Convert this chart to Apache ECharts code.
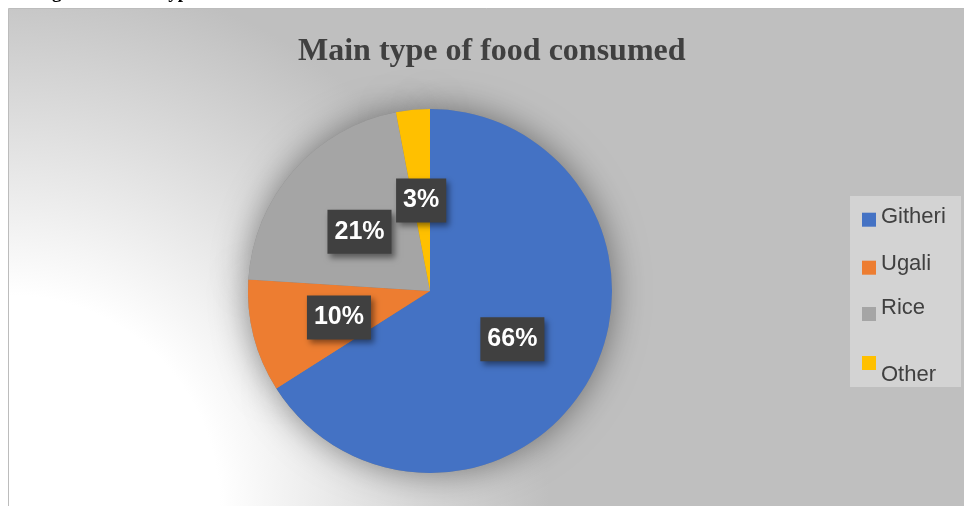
<!DOCTYPE html>
<html>
<head>
<meta charset="utf-8">
<script src="https://cdn.jsdelivr.net/npm/echarts@6/dist/echarts.min.js"></script>
<style>
html,body{margin:0;padding:0;background:#fff;}
#chart{width:964px;height:506px;}
</style>
</head>
<body>
<div id="chart"></div>
<script>
const categories = ['Githeri', 'Ugali', 'Rice', 'Other'];
const values = [66, 10, 21, 3];
const colors = ['#4472C4', '#ED7D31', '#A5A5A5', '#FFC000'];
const titleText = 'Main type of food consumed';
const captionText = 'Figure 4: Main type of food consumed';

// per-item legend layout (text offset relative to its swatch, and legend top)
const legendPads = [[0,0,6,0],[0,0,7,0],[0,0,13,0],[24,0,0,0]];
const legendTops = [205.7, 253.2, 296.5, 356];

const chart = echarts.init(document.getElementById('chart'));
const data = categories.map((c, i) => ({name: c, value: values[i]}));

const legends = categories.map((c, i) => ({
  orient: 'vertical',
  left: 862, top: legendTops[i],
  padding: 0,
  itemWidth: 14, itemHeight: 14,
  icon: 'rect',
  data: [c],
  formatter: name => '{k|' + name + '}',
  textStyle: {
    fontSize: 22, color: '#404040',
    rich: {k: {padding: legendPads[i], fontSize: 22, color: '#404040', fontFamily: 'Liberation Sans, Arial, sans-serif'}}
  }
}));

chart.setOption({
  animation: false,
  backgroundColor: '#ffffff',
  color: colors,
  graphic: [
    {
      type: 'rect', z: -10, silent: true,
      shape: {x: 8.5, y: 8.5, width: 970, height: 510},
      style: {
        fill: new echarts.graphic.RadialGradient(9, 506, 540, [
          {offset: 0, color: '#ffffff'},
          {offset: 0.39, color: '#ffffff'},
          {offset: 1, color: '#bfbfbf'}
        ], true),
        stroke: '#bcbcbc', lineWidth: 1
      }
    },
    {
      type: 'rect', z: -5, silent: true,
      shape: {x: 850, y: 196, width: 111, height: 191},
      style: {fill: '#d3d3d3'}
    },
    {
      type: 'text', z: 10, silent: true,
      style: {
        text: captionText, x: 35, y: -6.5,
        font: 'bold 19px "Liberation Serif", "Times New Roman", serif',
        fill: '#000', verticalAlign: 'middle', align: 'left'
      }
    }
  ],
  title: {
    text: titleText,
    left: 293, top: 31,
    textStyle: {fontFamily: '"Liberation Serif", "Times New Roman", serif', fontWeight: 'bold', fontSize: 32, color: '#404040'}
  },
  legend: legends,
  series: [
    {
      type: 'pie', z: 3,
      center: [430, 291], radius: 182,
      startAngle: 90, clockwise: true,
      avoidLabelOverlap: false,
      emphasis: {disabled: true},
      data: data,
      label: {
        show: true, position: 'inside',
        formatter: p => p.value + '%',
        offset: [0, 3],
        color: '#ffffff', fontWeight: 'bold', fontSize: 25, lineHeight: 25,
        fontFamily: 'Liberation Sans, Arial, sans-serif',
        backgroundColor: '#404040',
        padding: [10, 7, 9, 7],
        shadowBlur: 6, shadowOffsetX: 3, shadowOffsetY: 4, shadowColor: 'rgba(0,0,0,0.45)'
      },
      labelLine: {show: false}
    },
    {
      type: 'pie', z: 1, silent: true,
      center: [430, 291], radius: 182,
      startAngle: 90, clockwise: true,
      data: data,
      label: {show: false}, labelLine: {show: false},
      itemStyle: {color: '#8a8a8a', shadowBlur: 35, shadowColor: 'rgba(0,0,0,0.45)'},
      emphasis: {disabled: true}
    }
  ]
});
</script>
</body>
</html>
